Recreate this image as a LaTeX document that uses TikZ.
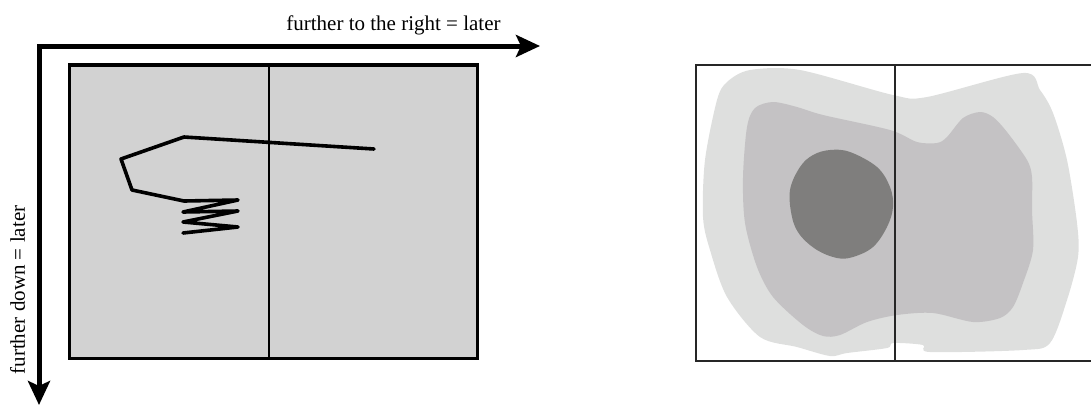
\documentclass[tikz,border=0pt]{standalone}
\usepackage{fontspec}
\setmainfont{Liberation Serif}
\usetikzlibrary{arrows.meta}
\definecolor{panelgray}{RGB}{210,210,210}
\definecolor{lightblob}{RGB}{222,223,222}
\definecolor{midblob}{RGB}{196,194,196}
\definecolor{darkblob}{RGB}{127,126,125}
\tikzset{
  axis/.style={line width=5pt, line join=miter, {Stealth[length=24pt,width=22pt,inset=5pt]}-{Stealth[length=24pt,width=22pt,inset=5pt]}},
  axislabel/.style={font=\fontsize{21}{24}\selectfont, inner sep=0pt},
  panel/.style={fill=panelgray, draw=black, line width=3.5pt},
  divider/.style={line width=1.5pt},
  trace/.style={line width=3.6pt, line join=round, line cap=round},
  rpanel/.style={draw=black!85, line width=2pt},
}
\begin{document}
\begin{tikzpicture}[x=1pt,y=-1pt]
\useasboundingbox (0,0) rectangle (1091,405);
% axes
\coordinate (ytip) at (39,405);
\coordinate (corner) at (39,46);
\coordinate (xtip) at (540,46);
\draw[axis] (ytip) -- (corner) -- (xtip);
\node[axislabel] (xlabel) at (393.5,25) {further to the right = later};
\node[axislabel, rotate=90] (ylabel) at (17.5,290) {further down = later};
% left panel
\draw[panel] (69.5,65) rectangle (477.5,358.5);
\draw[divider] (269,65) -- (269,358.5);
\draw[trace] (374,149) -- (184,137) -- (121,159) -- (132,190) -- (184,201)
  -- (238,200) -- (183,212) -- (238,211) -- (183,222) -- (238,227) -- (183,233);
% right panel blobs
\fill[lightblob] plot[smooth cycle, tension=0.5] coordinates {
 (727,82) (750,70) (800,70) (893,95) (927,97) (1023,73) (1040,90) (1053,113)
 (1067,160) (1077,223) (1078,257) (1067,300) (1050,343) (1023,350) (930,352)
 (923,345) (893,343) (887,348) (847,353) (830,356) (797,347) (760,337)
 (727,297) (710,250) (703,217) (705,160) (717,100)};
\fill[midblob] plot[smooth cycle, tension=0.5] coordinates {
 (773,102) (797,107) (823,115) (890,130) (917,142) (937,143) (947,137) (963,118)
 (980,112) (993,117) (1007,132) (1027,160) (1032,177) (1032,210) (1033,250)
 (1023,283) (1013,307) (1000,318) (973,322) (933,313) (897,315) (867,322)
 (840,335) (823,336) (803,325) (773,297) (757,267) (745,223) (743,177)
 (747,127) (755,108)};
\fill[darkblob] plot[smooth cycle, tension=0.6] coordinates {
 (830,150) (850,152) (877,167) (890,187) (893,207) (887,227) (873,247)
 (853,257) (837,258) (817,250) (800,235) (792,217) (790,190) (800,167) (813,155)};
\draw[rpanel] (695.5,64.5) rectangle (1100,360.5);
\draw[rpanel] (894.5,64.5) -- (894.5,360.5);
\end{tikzpicture}
\end{document}
